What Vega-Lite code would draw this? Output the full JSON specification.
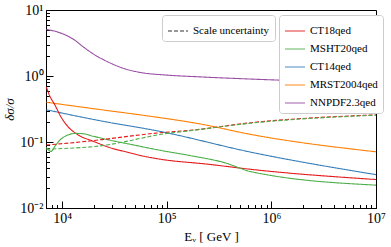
{
  "$schema": "https://vega.github.io/schema/vega-lite/v6.json",
  "width": 330,
  "height": 198,
  "autosize": "none",
  "padding": {"left": 46, "top": 10, "right": 15, "bottom": 39},
  "background": "white",
  "config": {
    "view": {"stroke": "black", "strokeWidth": 1},
    "font": "Liberation Serif"
  },
  "data": {"values": [
    {"pdf": "NNPDF2.3qed", "kind": "PDF", "E": 7050, "v": 5.08},
    {"pdf": "NNPDF2.3qed", "kind": "PDF", "E": 9570, "v": 4.5},
    {"pdf": "NNPDF2.3qed", "kind": "PDF", "E": 12800, "v": 3.6},
    {"pdf": "NNPDF2.3qed", "kind": "PDF", "E": 16200, "v": 2.7},
    {"pdf": "NNPDF2.3qed", "kind": "PDF", "E": 19900, "v": 2.15},
    {"pdf": "NNPDF2.3qed", "kind": "PDF", "E": 25100, "v": 1.75},
    {"pdf": "NNPDF2.3qed", "kind": "PDF", "E": 38900, "v": 1.3},
    {"pdf": "NNPDF2.3qed", "kind": "PDF", "E": 60200, "v": 1.11},
    {"pdf": "NNPDF2.3qed", "kind": "PDF", "E": 93600, "v": 1.04},
    {"pdf": "NNPDF2.3qed", "kind": "PDF", "E": 206000, "v": 0.97},
    {"pdf": "NNPDF2.3qed", "kind": "PDF", "E": 620000, "v": 0.9},
    {"pdf": "NNPDF2.3qed", "kind": "PDF", "E": 1850000, "v": 0.84},
    {"pdf": "NNPDF2.3qed", "kind": "PDF", "E": 10000000, "v": 0.69},

    {"pdf": "MRST2004qed", "kind": "PDF", "E": 7050, "v": 0.4},
    {"pdf": "MRST2004qed", "kind": "PDF", "E": 23000, "v": 0.31},
    {"pdf": "MRST2004qed", "kind": "PDF", "E": 70000, "v": 0.245},
    {"pdf": "MRST2004qed", "kind": "PDF", "E": 200000, "v": 0.19},
    {"pdf": "MRST2004qed", "kind": "PDF", "E": 640000, "v": 0.13},
    {"pdf": "MRST2004qed", "kind": "PDF", "E": 10000000, "v": 0.071},

    {"pdf": "CT14qed", "kind": "PDF", "E": 7050, "v": 0.308},
    {"pdf": "CT14qed", "kind": "PDF", "E": 23000, "v": 0.21},
    {"pdf": "CT14qed", "kind": "PDF", "E": 85700, "v": 0.145},
    {"pdf": "CT14qed", "kind": "PDF", "E": 640000, "v": 0.07},
    {"pdf": "CT14qed", "kind": "PDF", "E": 10000000, "v": 0.032},

    {"pdf": "CT18qed", "kind": "PDF", "E": 7050, "v": 0.68},
    {"pdf": "CT18qed", "kind": "PDF", "E": 7690, "v": 0.48},
    {"pdf": "CT18qed", "kind": "PDF", "E": 8390, "v": 0.38},
    {"pdf": "CT18qed", "kind": "PDF", "E": 9730, "v": 0.24},
    {"pdf": "CT18qed", "kind": "PDF", "E": 11200, "v": 0.175},
    {"pdf": "CT18qed", "kind": "PDF", "E": 14000, "v": 0.13},
    {"pdf": "CT18qed", "kind": "PDF", "E": 20000, "v": 0.102},
    {"pdf": "CT18qed", "kind": "PDF", "E": 28000, "v": 0.083},
    {"pdf": "CT18qed", "kind": "PDF", "E": 42000, "v": 0.07},
    {"pdf": "CT18qed", "kind": "PDF", "E": 60000, "v": 0.061},
    {"pdf": "CT18qed", "kind": "PDF", "E": 85700, "v": 0.055},
    {"pdf": "CT18qed", "kind": "PDF", "E": 250000, "v": 0.046},
    {"pdf": "CT18qed", "kind": "PDF", "E": 640000, "v": 0.0385},
    {"pdf": "CT18qed", "kind": "PDF", "E": 10000000, "v": 0.027},

    {"pdf": "MSHT20qed", "kind": "PDF", "E": 7050, "v": 0.083},
    {"pdf": "MSHT20qed", "kind": "PDF", "E": 7800, "v": 0.072},
    {"pdf": "MSHT20qed", "kind": "PDF", "E": 8600, "v": 0.088},
    {"pdf": "MSHT20qed", "kind": "PDF", "E": 9570, "v": 0.108},
    {"pdf": "MSHT20qed", "kind": "PDF", "E": 11100, "v": 0.126},
    {"pdf": "MSHT20qed", "kind": "PDF", "E": 13500, "v": 0.135},
    {"pdf": "MSHT20qed", "kind": "PDF", "E": 15500, "v": 0.134},
    {"pdf": "MSHT20qed", "kind": "PDF", "E": 19900, "v": 0.122},
    {"pdf": "MSHT20qed", "kind": "PDF", "E": 29100, "v": 0.106},
    {"pdf": "MSHT20qed", "kind": "PDF", "E": 48500, "v": 0.09},
    {"pdf": "MSHT20qed", "kind": "PDF", "E": 85700, "v": 0.075},
    {"pdf": "MSHT20qed", "kind": "PDF", "E": 170000, "v": 0.062},
    {"pdf": "MSHT20qed", "kind": "PDF", "E": 350000, "v": 0.049},
    {"pdf": "MSHT20qed", "kind": "PDF", "E": 640000, "v": 0.0355},
    {"pdf": "MSHT20qed", "kind": "PDF", "E": 10000000, "v": 0.0222},

    {"pdf": "CT18qed", "kind": "Scale uncertainty", "E": 7050, "v": 0.09},
    {"pdf": "CT18qed", "kind": "Scale uncertainty", "E": 19900, "v": 0.105},
    {"pdf": "CT18qed", "kind": "Scale uncertainty", "E": 26700, "v": 0.111},
    {"pdf": "CT18qed", "kind": "Scale uncertainty", "E": 85700, "v": 0.138},
    {"pdf": "CT18qed", "kind": "Scale uncertainty", "E": 166000, "v": 0.15},
    {"pdf": "CT18qed", "kind": "Scale uncertainty", "E": 640000, "v": 0.196},
    {"pdf": "CT18qed", "kind": "Scale uncertainty", "E": 10000000, "v": 0.258},

    {"pdf": "MSHT20qed", "kind": "Scale uncertainty", "E": 7050, "v": 0.078},
    {"pdf": "MSHT20qed", "kind": "Scale uncertainty", "E": 12800, "v": 0.081},
    {"pdf": "MSHT20qed", "kind": "Scale uncertainty", "E": 19900, "v": 0.085},
    {"pdf": "MSHT20qed", "kind": "Scale uncertainty", "E": 26700, "v": 0.09},
    {"pdf": "MSHT20qed", "kind": "Scale uncertainty", "E": 38400, "v": 0.1},
    {"pdf": "MSHT20qed", "kind": "Scale uncertainty", "E": 55300, "v": 0.113},
    {"pdf": "MSHT20qed", "kind": "Scale uncertainty", "E": 85700, "v": 0.13},
    {"pdf": "MSHT20qed", "kind": "Scale uncertainty", "E": 166000, "v": 0.148},
    {"pdf": "MSHT20qed", "kind": "Scale uncertainty", "E": 640000, "v": 0.193},
    {"pdf": "MSHT20qed", "kind": "Scale uncertainty", "E": 10000000, "v": 0.255}
  ]},
  "mark": {"type": "line", "strokeWidth": 1.1, "clip": true, "interpolate": "monotone"},
  "encoding": {
    "x": {
      "field": "E", "type": "quantitative",
      "scale": {"type": "log", "domain": [7000, 10000000], "nice": false},
      "axis": {
        "title": "Eᵥ  [ GeV ]",
        "titleFont": "Liberation Serif", "titleFontSize": 13, "titleFontWeight": "normal", "titleColor": "black", "titlePadding": 2,
        "values": [8000, 9000, 10000, 20000, 30000, 40000, 50000, 60000, 70000, 80000, 90000, 100000, 200000, 300000, 400000, 500000, 600000, 700000, 800000, 900000, 1000000, 2000000, 3000000, 4000000, 5000000, 6000000, 7000000, 8000000, 9000000, 10000000],
        "labelExpr": "datum.value == 10000 ? '10⁴' : datum.value == 100000 ? '10⁵' : datum.value == 1000000 ? '10⁶' : datum.value == 10000000 ? '10⁷' : ''",
        "labelFont": "Liberation Serif", "labelFontSize": 14, "labelColor": "black", "labelPadding": 10,
        "labelFlush": false, "labelOverlap": false,
        "domainColor": "black", "tickColor": "black", "grid": false,
        "tickSize": {"condition": {"test": "datum.value == 10000 || datum.value == 100000 || datum.value == 1000000 || datum.value == 10000000", "value": -7}, "value": -3.5}
      }
    },
    "y": {
      "field": "v", "type": "quantitative",
      "scale": {"type": "log", "domain": [0.01, 10], "nice": false},
      "axis": {
        "title": "δσ/σ",
        "titleFont": "Liberation Serif", "titleFontSize": 13, "titleFontWeight": "normal", "titleFontStyle": "italic", "titleColor": "black", "titlePadding": 3,
        "values": [0.01, 0.02, 0.03, 0.04, 0.05, 0.06, 0.07, 0.08, 0.09, 0.1, 0.2, 0.3, 0.4, 0.5, 0.6, 0.7, 0.8, 0.9, 1, 2, 3, 4, 5, 6, 7, 8, 9, 10],
        "labelExpr": "datum.value == 0.01 ? '10⁻²' : datum.value == 0.1 ? '10⁻¹' : datum.value == 1 ? '10⁰' : datum.value == 10 ? '10¹' : ''",
        "labelFont": "Liberation Serif", "labelFontSize": 14, "labelColor": "black", "labelPadding": 10,
        "labelFlush": false, "labelOverlap": false,
        "domainColor": "black", "tickColor": "black", "grid": false,
        "tickSize": {"condition": {"test": "datum.value == 0.01 || datum.value == 0.1 || datum.value == 1 || datum.value == 10", "value": -7}, "value": -3.5}
      }
    },
    "color": {
      "field": "pdf", "type": "nominal",
      "scale": {"domain": ["CT18qed", "MSHT20qed", "CT14qed", "MRST2004qed", "NNPDF2.3qed"], "range": ["#e41a1c", "#4daf4a", "#377eb8", "#ff7f00", "#984ea3"]},
      "legend": {
        "title": null, "orient": "none", "legendX": 233, "legendY": 5,
        "symbolType": "stroke", "symbolSize": 400, "symbolStrokeWidth": 1.5, "symbolOpacity": 0.6,
        "labelFont": "Liberation Serif", "labelFontSize": 11, "labelColor": "black",
        "rowPadding": 2, "padding": 5, "strokeColor": "#cccccc", "fillColor": "white", "cornerRadius": 3
      }
    },
    "strokeDash": {
      "field": "kind", "type": "nominal",
      "scale": {"domain": ["PDF", "Scale uncertainty"], "range": [[1, 0], [4, 2]]},
      "legend": {
        "title": null, "orient": "none", "legendX": 116, "legendY": 5,
        "values": ["Scale uncertainty"],
        "symbolType": "stroke", "symbolSize": 400, "symbolStrokeWidth": 1.2, "symbolStrokeColor": "#333333",
        "labelFont": "Liberation Serif", "labelFontSize": 11, "labelColor": "black",
        "padding": 5, "strokeColor": "#cccccc", "fillColor": "white", "cornerRadius": 3
      }
    },
    "detail": {"field": "kind"}
  }
}
